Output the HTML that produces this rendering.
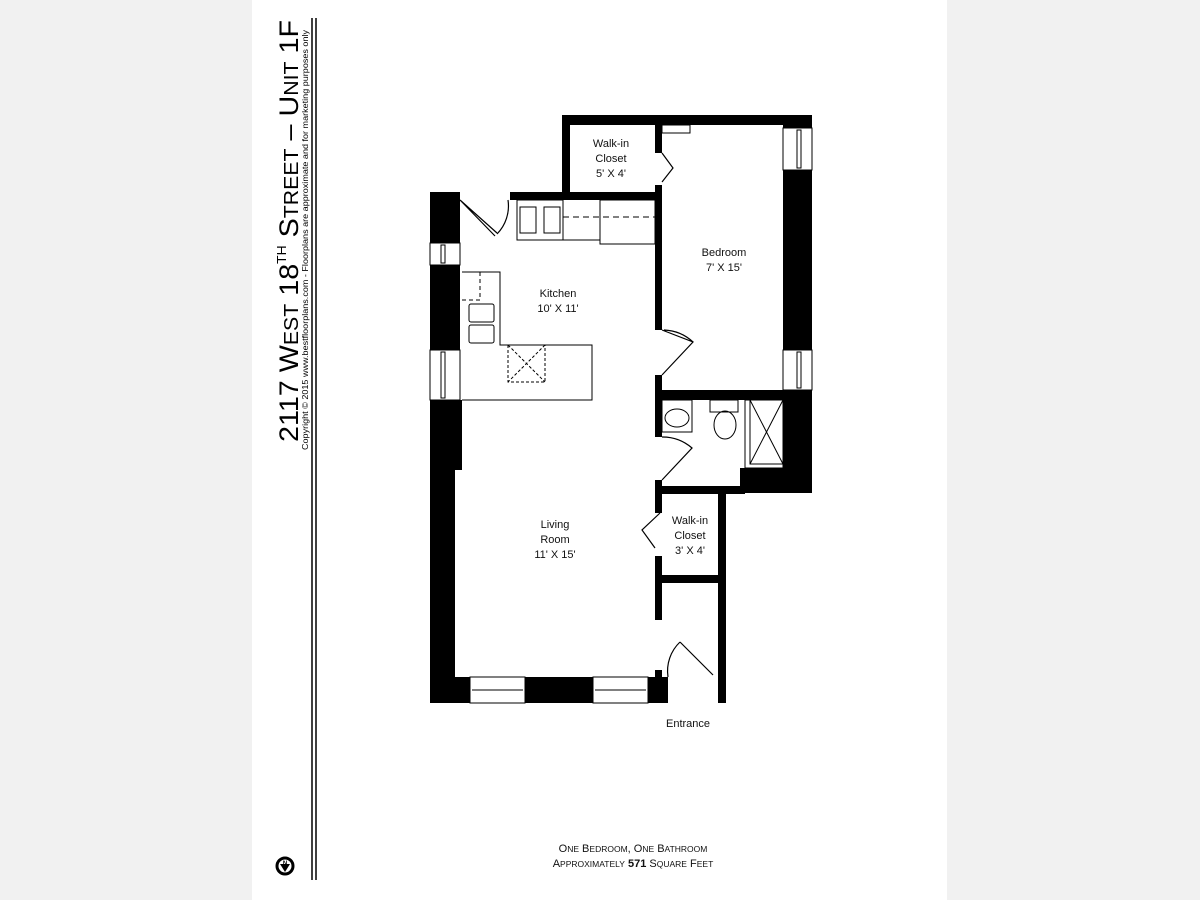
<!DOCTYPE html>
<html><head><meta charset="utf-8"><style>
html,body{margin:0;padding:0;background:#f1f1f1;}
svg{display:block;}
text{font-family:"Liberation Sans",sans-serif;}
</style></head><body>
<svg width="1200" height="900" viewBox="0 0 1200 900" xmlns="http://www.w3.org/2000/svg">
<rect x="0" y="0" width="1200" height="900" fill="#f1f1f1"/>
<rect x="252" y="0" width="695" height="900" fill="#fff"/>

<!-- title -->
<g transform="translate(298,442) rotate(-90)">
<text x="0" y="0" font-size="27" textLength="422" lengthAdjust="spacingAndGlyphs">2117 W<tspan font-size="20">EST</tspan> 18<tspan font-size="13" dy="-12">TH</tspan><tspan dy="12"> S</tspan><tspan font-size="20">TREET</tspan> – U<tspan font-size="20">NIT</tspan> 1F</text>
</g>
<g transform="translate(308,450) rotate(-90)">
<text x="0" y="0" font-size="8" textLength="420" lengthAdjust="spacingAndGlyphs">Copyright © 2015  www.bestfloorplans.com - Floorplans are approximate and for marketing purposes only</text>
</g>
<line x1="312" y1="18" x2="312" y2="880" stroke="#000" stroke-width="1.5"/>
<line x1="316" y1="18" x2="316" y2="880" stroke="#000" stroke-width="1.5"/>
<!-- compass -->
<circle cx="285" cy="866" r="8" fill="none" stroke="#000" stroke-width="3"/>
<path d="M280 864 L285 872 L290 864 Z" fill="#000"/>
<text x="285" y="865" font-size="6" text-anchor="middle" font-weight="bold">N</text>

<!-- walls -->
<g fill="#000">
<!-- closet / bedroom top -->
<rect x="562" y="115" width="250" height="10"/>
<rect x="562" y="115" width="8" height="85"/>
<rect x="510" y="192" width="152" height="8"/>
<rect x="655" y="115" width="7" height="38"/>
<rect x="655" y="185" width="7" height="145"/>
<rect x="655" y="375" width="7" height="62"/>
<rect x="655" y="480" width="7" height="33"/>
<rect x="655" y="556" width="7" height="64"/>
<rect x="655" y="670" width="7" height="33"/>
<!-- bedroom right wall -->
<rect x="783" y="115" width="29" height="13"/>
<rect x="783" y="170" width="29" height="180"/>
<rect x="783" y="390" width="29" height="103"/>
<!-- bathroom -->
<rect x="655" y="390" width="157" height="10"/>
<rect x="740" y="468" width="72" height="25"/>
<rect x="655" y="486" width="90" height="8"/>
<!-- closet 2 -->
<rect x="718" y="493" width="8" height="210"/>
<rect x="660" y="575" width="60" height="8"/>
<!-- left wall -->
<rect x="430" y="192" width="30" height="51"/>
<rect x="430" y="265" width="30" height="85"/>
<rect x="430" y="400" width="32" height="70"/>
<rect x="430" y="470" width="25" height="233"/>
<!-- bottom -->
<rect x="430" y="677" width="40" height="26"/>
<rect x="525" y="677" width="68" height="26"/>
<rect x="648" y="677" width="20" height="26"/>
</g>
<!-- windows -->
<g fill="#fff" stroke="#000" stroke-width="1">
<rect x="470" y="677" width="55" height="26"/><line x1="472" y1="690" x2="523" y2="690"/>
<rect x="593" y="677" width="55" height="26"/><line x1="595" y1="690" x2="646" y2="690"/>
<rect x="430" y="243" width="30" height="22"/><rect x="441" y="245" width="4" height="18"/>
<rect x="430" y="350" width="30" height="50"/><rect x="441" y="352" width="4" height="46"/>
<rect x="783" y="128" width="29" height="42"/><rect x="797" y="130" width="4" height="38"/>
<rect x="783" y="350" width="29" height="40"/><rect x="797" y="352" width="4" height="36"/>
</g>
<!-- doors -->
<g fill="none" stroke="#000" stroke-width="1.2">
<path d="M460 200 L497 233 M460 200 L495 236"/>
<path d="M497 234 A40 40 0 0 0 508 200"/>
<path d="M662 153 L673 168 L662 182"/>
<path d="M662 330 L693 342 L662 375 M664 330 A45 45 0 0 1 693 342"/>
<path d="M662 437 A45 45 0 0 1 692 448 L662 480"/>
<path d="M660 513 L642 530 L655 548"/>
<path d="M680 642 L713 675 M680 642 A40 40 0 0 0 668 677"/>
</g>
<!-- kitchen fixtures -->
<g fill="none" stroke="#000" stroke-width="1">
<rect x="517" y="200" width="46" height="40"/>
<rect x="520" y="207" width="16" height="26"/><rect x="544" y="207" width="16" height="26"/>
<line x1="563" y1="240" x2="600" y2="240"/>
<rect x="600" y="200" width="55" height="44"/>
<line x1="563" y1="217" x2="655" y2="217" stroke-dasharray="6,4"/>
<path d="M462 272 L500 272 L500 345 L592 345 L592 400 L462 400"/>
<line x1="480" y1="272" x2="480" y2="300" stroke-dasharray="4,3"/>
<line x1="462" y1="300" x2="480" y2="300" stroke-dasharray="4,3"/>
<rect x="469" y="304" width="25" height="18" rx="2"/>
<rect x="469" y="325" width="25" height="18" rx="2"/>
<rect x="508" y="345" width="37" height="37" stroke-dasharray="3,2"/>
<path d="M508 345 L545 382 M545 345 L508 382" stroke-dasharray="3,2"/>
<rect x="662" y="125" width="28" height="8"/>
<!-- bathroom fixtures -->
<rect x="662" y="400" width="30" height="32"/>
<ellipse cx="677" cy="418" rx="12" ry="9"/>
<rect x="710" y="400" width="28" height="12"/>
<ellipse cx="725" cy="425" rx="11" ry="14"/>
<rect x="745" y="400" width="38" height="68"/>
<rect x="750" y="400" width="33" height="64"/>
<path d="M750 400 L783 464 M783 400 L750 464"/>
</g>

<!-- labels -->
<g font-size="11" text-anchor="middle" fill="#111">
<text x="611" y="147">Walk-in</text>
<text x="611" y="162">Closet</text>
<text x="611" y="177">5' X 4'</text>
<text x="724" y="256">Bedroom</text>
<text x="724" y="271">7' X 15'</text>
<text x="558" y="297">Kitchen</text>
<text x="558" y="312">10' X 11'</text>
<text x="555" y="528">Living</text>
<text x="555" y="543">Room</text>
<text x="555" y="558">11' X 15'</text>
<text x="690" y="524">Walk-in</text>
<text x="690" y="539">Closet</text>
<text x="690" y="554">3' X 4'</text>
<text x="688" y="727">Entrance</text>
<text x="633" y="852" font-size="11">O<tspan font-size="8.5">NE</tspan> B<tspan font-size="8.5">EDROOM</tspan>, O<tspan font-size="8.5">NE</tspan> B<tspan font-size="8.5">ATHROOM</tspan></text>
<text x="633" y="867" font-size="11">A<tspan font-size="8.5">PPROXIMATELY</tspan> <tspan font-weight="bold">571</tspan> S<tspan font-size="8.5">QUARE</tspan> F<tspan font-size="8.5">EET</tspan></text>
</g>
</svg>
</body></html>
